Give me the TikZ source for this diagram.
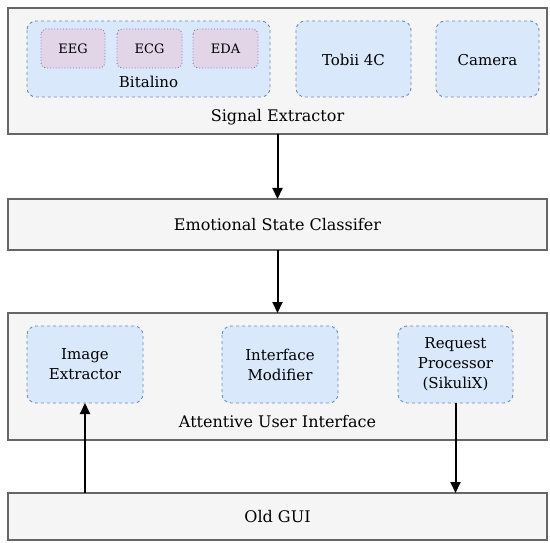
\documentclass[tikz,border=0pt]{standalone}
\usepackage{fontspec}
\setmainfont{DejaVu Serif}
\usetikzlibrary{arrows.meta}
\definecolor{outerfill}{HTML}{F5F5F5}
\definecolor{outerline}{HTML}{666666}
\definecolor{bluefill}{HTML}{DAE8FC}
\definecolor{blueline}{HTML}{6C8EBF}
\definecolor{purplefill}{HTML}{E1D5E7}
\definecolor{purpleline}{HTML}{9673A6}
\tikzset{
  outerbox/.style={draw=outerline, fill=outerfill, line width=1.8pt},
  bluebox/.style={draw=blueline, fill=bluefill, dashed, rounded corners=9pt, line width=0.9pt},
  purplebox/.style={draw=purpleline, fill=purplefill, dotted, rounded corners=5pt, line width=0.9pt},
  lbl/.style={font=\fontsize{16}{18}\selectfont},
  inlbl/.style={align=center, font=\fontsize{15}{20}\selectfont},
  smlbl/.style={font=\fontsize{13}{15}\selectfont},
  conn/.style={-{Triangle[length=11pt,width=10pt]}, line width=2pt},
}
\begin{document}
\begin{tikzpicture}[x=1pt,y=-1pt]
\useasboundingbox (0,0) rectangle (550,543);
% Signal Extractor
\draw[outerbox] (8,8) rectangle (547,134);
\coordinate (se_s) at (277.5,134);
\node[lbl] (selbl) at (277.5,117) {Signal Extractor};
\draw[bluebox] (27,21) rectangle (270,97);
\node[inlbl] (bitlbl) at (148.5,82) {Bitalino};
\draw[purplebox] (41,29) rectangle (105,68);
\node[smlbl] (eeg) at (73,48.5) {EEG};
\draw[purplebox] (117,29) rectangle (182,68);
\node[smlbl] (ecg) at (149.5,48.5) {ECG};
\draw[purplebox] (193,29) rectangle (258,68);
\node[smlbl] (eda) at (225.5,48.5) {EDA};
\draw[bluebox] (296,21) rectangle (411,97);
\node[inlbl] (tobii) at (353.5,60) {Tobii 4C};
\draw[bluebox] (436,21) rectangle (539,97);
\node[inlbl] (camera) at (487.5,60) {Camera};
% Emotional State Classifier
\draw[outerbox] (8,199) rectangle (547,250);
\coordinate (esc_n) at (277.5,199);
\coordinate (esc_s) at (277.5,250);
\node[lbl] (esc) at (277.5,225) {Emotional State Classifer};
% Attentive User Interface
\draw[outerbox] (8,313) rectangle (547,440);
\coordinate (aui_n) at (277.5,313);
\node[lbl] (auilbl) at (277.5,422) {Attentive User Interface};
\draw[bluebox] (27,326) rectangle (143,403);
\node[inlbl] (imgex) at (85,364.5) {Image\\Extractor};
\coordinate (imgex_s) at (85,403);
\draw[bluebox] (222,326) rectangle (338,403);
\node[inlbl] (intmod) at (280,364.5) {Interface\\Modifier};
\draw[bluebox] (398,326) rectangle (513,403);
\node[inlbl] (reqproc) at (455.5,364.5) {Request\\Processor\\(SikuliX)};
\coordinate (reqproc_s) at (455.5,403);
% Old GUI
\draw[outerbox] (8,493) rectangle (547,540);
\node[lbl] (oldgui) at (277.5,517) {Old GUI};
\coordinate (og_l) at (85,493);
\coordinate (og_r) at (455.5,493);
% connectors
\draw[conn] (se_s) -- (esc_n);
\draw[conn] (esc_s) -- (aui_n);
\draw[conn] (og_l) -- (imgex_s);
\draw[conn] (reqproc_s) -- (og_r);
\end{tikzpicture}
\end{document}
